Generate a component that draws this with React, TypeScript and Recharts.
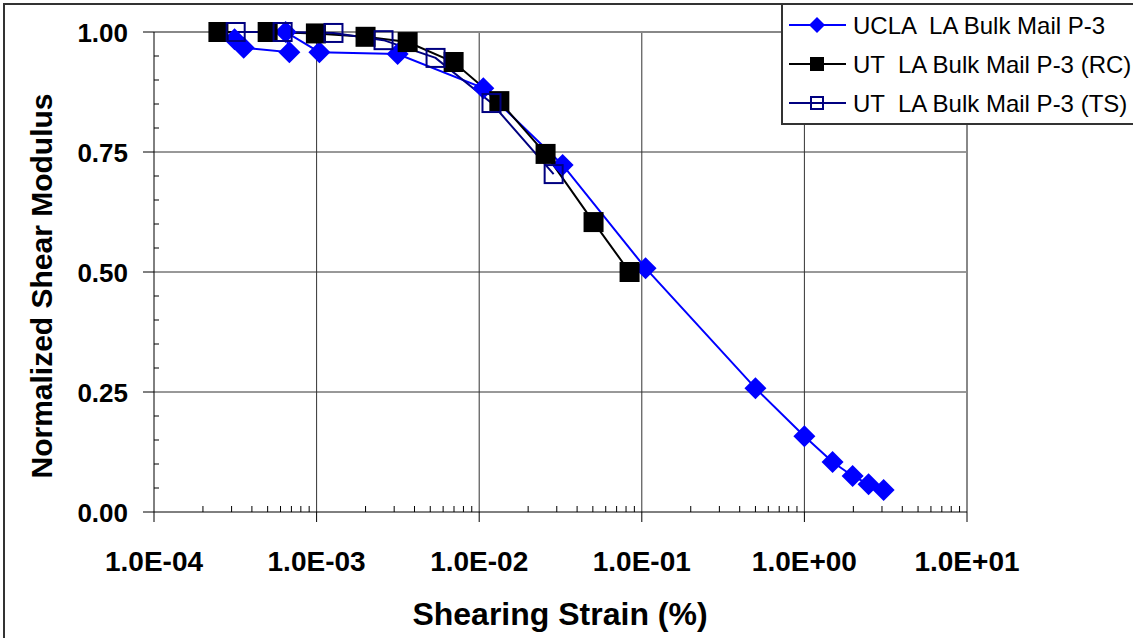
import React from 'react';
import { LineChart, Line, XAxis, YAxis, CartesianGrid, Legend } from 'recharts';

// UCLA LA Bulk Mail P-3 (diamonds), in test order
const uclaStrain = [3.13e-4, 3.56e-4, 6.8e-4, 6.45e-4, 1.04e-3, 3.15e-3, 1.06e-2, 3.26e-2, 0.1055, 0.5, 1.0, 1.49, 1.98, 2.48, 3.07];
const uclaG = [0.985, 0.967, 0.958, 1.0, 0.958, 0.954, 0.883, 0.723, 0.508, 0.258, 0.158, 0.104, 0.075, 0.058, 0.046];

// UT resonant column
const rcStrain = [2.49e-4, 5.0e-4, 9.9e-4, 2.0e-3, 3.63e-3, 6.96e-3, 1.33e-2, 2.56e-2, 5.05e-2, 8.41e-2];
const rcG = [1.0, 1.0, 0.997, 0.99, 0.979, 0.9375, 0.856, 0.746, 0.604, 0.5];

// UT torsional shear
const tsStrain = [3.18e-4, 6.18e-4, 1.27e-3, 2.58e-3, 5.39e-3, 1.19e-2, 2.87e-2];
const tsG = [1.0, 1.0, 0.998, 0.983, 0.946, 0.852, 0.704];

const seriesNames = ['UCLA  LA Bulk Mail P-3', 'UT  LA Bulk Mail P-3 (RC)', 'UT  LA Bulk Mail P-3 (TS)'];

const xMajorTicks = [1e-4, 1e-3, 1e-2, 1e-1, 1, 10];
const xTickLabels = ['1.0E-04', '1.0E-03', '1.0E-02', '1.0E-01', '1.0E+00', '1.0E+01'];
const yTicks = [0, 0.05, 0.1, 0.15, 0.2, 0.25, 0.3, 0.35, 0.4, 0.45, 0.5, 0.55, 0.6, 0.65, 0.7, 0.75, 0.8, 0.85, 0.9, 0.95, 1.0];
const yMajorTicks = [0, 0.25, 0.5, 0.75, 1.0];
const yTickLabels = ['0.00', '0.25', '0.50', '0.75', '1.00'];

const xMinorTicks = xMajorTicks.slice(0, -1).flatMap((d) => [2, 3, 4, 5, 6, 7, 8, 9].map((m) => d * m));
const xAllTicks = [...xMajorTicks, ...xMinorTicks].sort((a, b) => a - b);

const toPoints = (xs: number[], ys: number[]) => xs.map((x, i) => ({ x, g: ys[i] }));
const ucla = toPoints(uclaStrain, uclaG);
const rc = toPoints(rcStrain, rcG);
const ts = toPoints(tsStrain, tsG);

const FONT = '"Liberation Sans", Arial, sans-serif';
const BLUE = '#0000FF';
const NAVY = '#000080';

const diamondPath = (cx: number, cy: number, r: number) => `M${cx},${cy - r}L${cx + r},${cy}L${cx},${cy + r}L${cx - r},${cy}Z`;

const DiamondDot = (props: any) => {
  const { cx, cy, index } = props;
  if (cx == null || cy == null) return <g key={index} />;
  return <path key={index} d={diamondPath(cx, cy, 11)} fill={BLUE} />;
};

const SolidSquareDot = (props: any) => {
  const { cx, cy, index } = props;
  if (cx == null || cy == null) return <g key={index} />;
  return <rect key={index} x={cx - 10} y={cy - 10} width={20} height={20} fill="#000" />;
};

const HollowSquareDot = (props: any) => {
  const { cx, cy, index } = props;
  if (cx == null || cy == null) return <g key={index} />;
  return <rect key={index} x={cx - 9} y={cy - 9} width={18} height={18} fill="none" stroke={NAVY} strokeWidth={2} />;
};

const isDecade = (v: number) => Math.abs(Math.log10(v) - Math.round(Math.log10(v))) < 1e-6;

const XTick = (props: any) => {
  const { x, y, payload } = props;
  const v = payload.value as number;
  if (isDecade(v)) {
    const idx = xMajorTicks.findIndex((m) => Math.abs(Math.log10(m) - Math.log10(v)) < 1e-6);
    return (
      <g>
        <line x1={x} x2={x} y1={y} y2={y + 10} stroke="#000" strokeWidth={1} />
        <text x={x} y={y + 59} textAnchor="middle" fontFamily={FONT} fontWeight="bold" fontSize={28} fill="#000">
          {xTickLabels[idx]}
        </text>
      </g>
    );
  }
  return <line x1={x} x2={x} y1={y} y2={y - 6} stroke="#000" strokeWidth={1} />;
};

const YTick = (props: any) => {
  const { x, y, payload } = props;
  const v = payload.value as number;
  const idx = yMajorTicks.findIndex((m) => Math.abs(m - v) < 1e-6);
  if (idx >= 0) {
    return (
      <g>
        <line x1={x - 11} x2={x} y1={y} y2={y} stroke="#000" strokeWidth={1} />
        <text x={x - 26} y={y + 10} textAnchor="end" fontFamily={FONT} fontWeight="bold" fontSize={26} fill="#000">
          {yTickLabels[idx]}
        </text>
      </g>
    );
  }
  return <line x1={x} x2={x + 5} y1={y} y2={y} stroke="#000" strokeWidth={1} />;
};

const XTitle = () => (
  <text x={560} y={625} textAnchor="middle" fontFamily={FONT} fontWeight="bold" fontSize={32} fill="#000">
    Shearing Strain (%)
  </text>
);

const YTitle = () => (
  <text x={52} y={286} transform="rotate(-90 52 286)" textAnchor="middle" fontFamily={FONT} fontWeight="bold" fontSize={30} fill="#000">
    Normalized Shear Modulus
  </text>
);

const LegendBox = () => {
  const rows = [22, 61, 100];
  return (
    <svg width={360} height={123} style={{ display: 'block' }}>
      <rect x={1} y={1} width={400} height={120} fill="#fff" stroke="#333" strokeWidth={2} />
      {/* UCLA */}
      <line x1={8} x2={65} y1={rows[0]} y2={rows[0]} stroke={BLUE} strokeWidth={2} />
      <path d={diamondPath(36, rows[0], 8)} fill={BLUE} />
      {/* RC */}
      <line x1={8} x2={65} y1={rows[1]} y2={rows[1]} stroke="#000" strokeWidth={2} />
      <rect x={29} y={rows[1] - 7} width={14} height={14} fill="#000" />
      {/* TS */}
      <line x1={8} x2={65} y1={rows[2]} y2={rows[2]} stroke={NAVY} strokeWidth={2} />
      <rect x={30} y={rows[2] - 6} width={12} height={12} fill="none" stroke={NAVY} strokeWidth={2} />
      {seriesNames.map((name, i) => (
        <text key={name} x={72} y={rows[i] + 9} fontFamily={FONT} fontSize={24} fill="#000" style={{ whiteSpace: 'pre' }}>
          {name}
        </text>
      ))}
    </svg>
  );
};

export default function App() {
  return (
    <div style={{ position: 'absolute', left: 0, top: 0, width: 1133, height: 638, background: '#fff', overflow: 'hidden' }}>
      <div style={{ position: 'absolute', left: 3, top: 3, width: 1200, height: 700, borderLeft: '2px solid #333', borderTop: '2px solid #333' }} />
      <LineChart width={1133} height={638} margin={{ top: 32, right: 166, bottom: 0, left: 0 }}>
        <CartesianGrid stroke="#333" strokeWidth={1} horizontalValues={[0.25, 0.5, 0.75]} verticalValues={[1e-3, 1e-2, 1e-1, 1]} />
        <CartesianGrid stroke="#888" strokeWidth={2} horizontalValues={[1]} verticalValues={[10]} />
        <XAxis
          dataKey="x"
          type="number"
          scale="log"
          domain={[1e-4, 10]}
          ticks={xAllTicks}
          interval={0}
          tickSize={0}
          tickMargin={0}
          tick={<XTick />}
          height={126}
          axisLine={{ stroke: '#000', strokeWidth: 1 }}
          tickLine={false}
          label={<XTitle />}
        />
        <YAxis
          type="number"
          domain={[0, 1]}
          ticks={yTicks}
          interval={0}
          tickSize={0}
          tickMargin={0}
          tick={<YTick />}
          width={154}
          axisLine={{ stroke: '#000', strokeWidth: 1 }}
          tickLine={false}
          label={<YTitle />}
        />
        <Legend
          layout="vertical"
          align="center"
          verticalAlign="middle"
          content={<LegendBox />}
          wrapperStyle={{ position: 'absolute', left: 781, top: 3, width: 360, height: 123 }}
        />
        <Line data={ucla} dataKey="g" name={seriesNames[0]} type="linear" stroke={BLUE} strokeWidth={2} dot={DiamondDot} activeDot={false} isAnimationActive={false} />
        <Line data={rc} dataKey="g" name={seriesNames[1]} type="linear" stroke="#000" strokeWidth={2} dot={SolidSquareDot} activeDot={false} isAnimationActive={false} />
        <Line data={ts} dataKey="g" name={seriesNames[2]} type="linear" stroke={NAVY} strokeWidth={2} dot={HollowSquareDot} activeDot={false} isAnimationActive={false} />
      </LineChart>
    </div>
  );
}
